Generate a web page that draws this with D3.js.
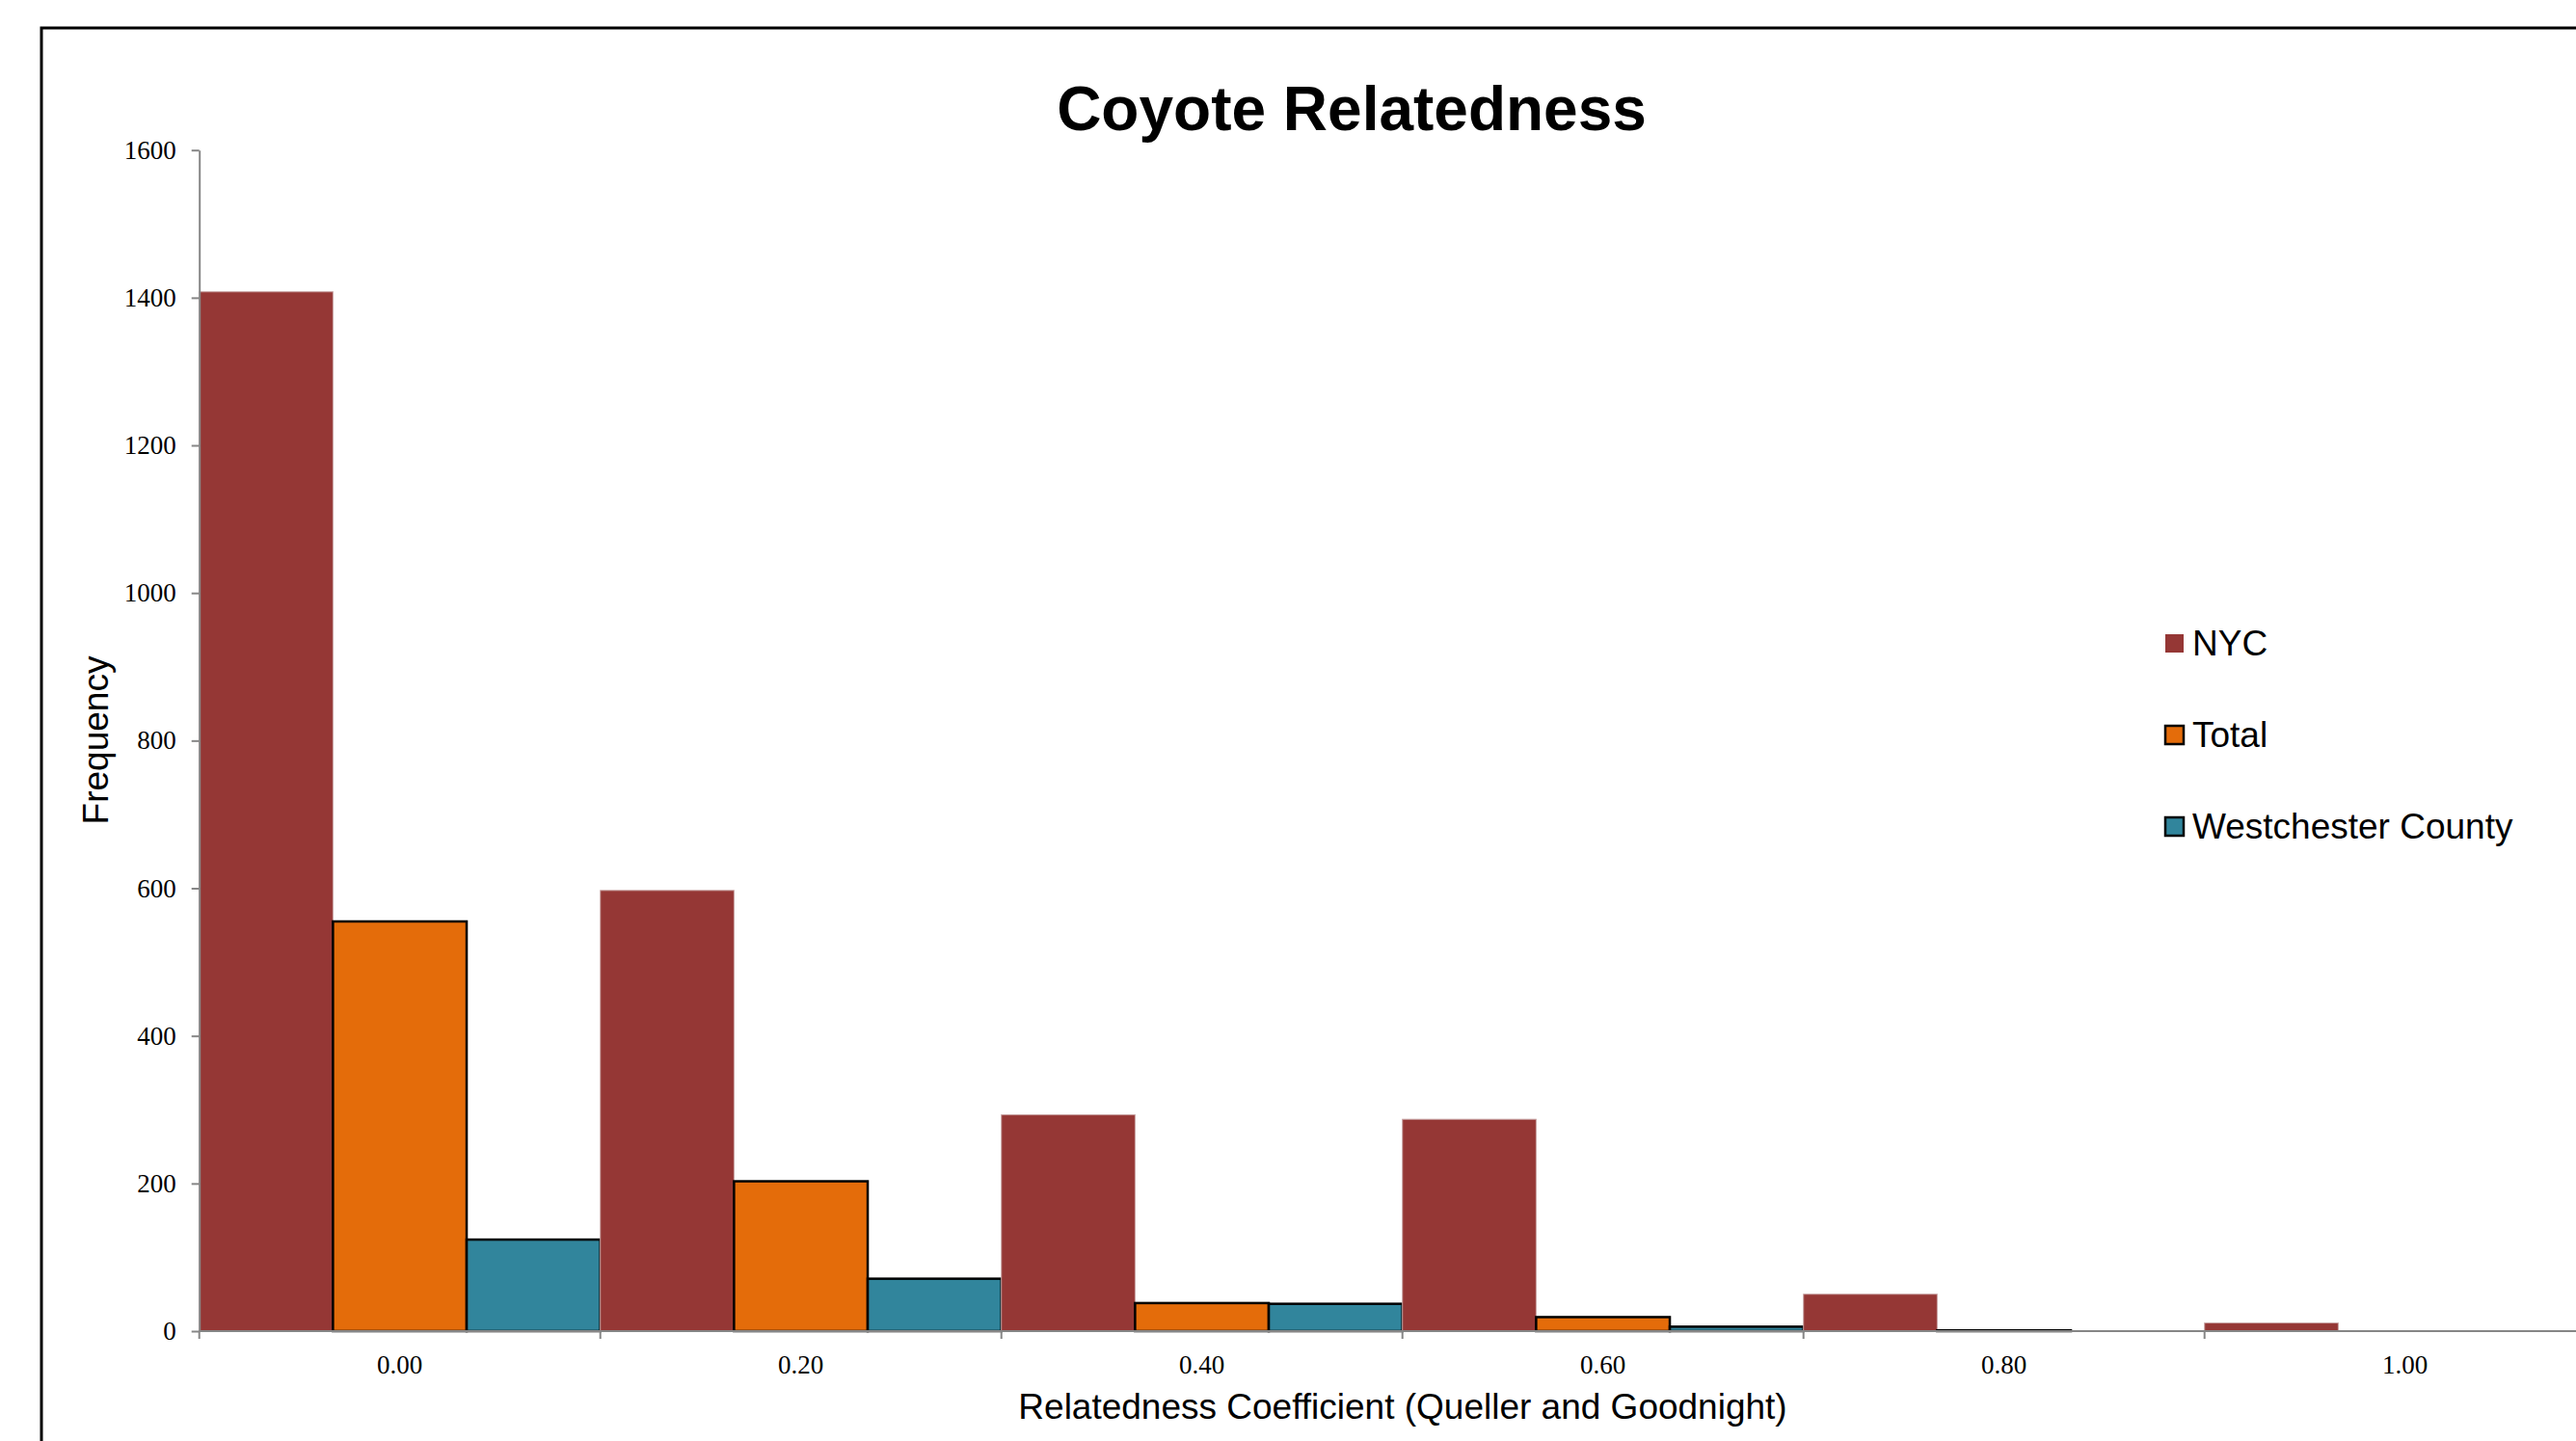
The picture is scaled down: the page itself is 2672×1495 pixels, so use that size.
<!DOCTYPE html>
<html>
<head>
<meta charset="utf-8">
<script src="https://cdn.jsdelivr.net/npm/d3@7"></script>
<style>
  body { margin: 0; background: #fff; }
  svg { display: block; }
</style>
</head>
<body>
<div id="chart"></div>
<script>
// Chart data
const categories = ["0.00", "0.20", "0.40", "0.60", "0.80", "1.00"];
const seriesNames = ["NYC", "Total", "Westchester County"];
const nycValues = [1408, 597, 293, 287, 50, 11];
const totalValues = [555, 203, 38, 19, 1, 0];
const westValues = [124, 71, 37, 6, 0, 0];
const yTicks = [0, 200, 400, 600, 800, 1000, 1200, 1400, 1600];

const colors = { "NYC": "#953735", "Total": "#E46C0A", "Westchester County": "#31859C" };
const strokes = { "NYC": "#c9a5a5", "Total": "#000", "Westchester County": "#000" };

const data = categories.map((c, i) => ({
  cat: c,
  values: [
    { key: "NYC", value: nycValues[i] },
    { key: "Total", value: totalValues[i] },
    { key: "Westchester County", value: westValues[i] }
  ]
}));

const W = 2672, H = 1495;
const svg = d3.select("#chart").append("svg").attr("width", W).attr("height", H);

// Outer frame (runs past the right and bottom edges)
svg.append("rect")
  .attr("x", 43).attr("y", 29)
  .attr("width", 2700).attr("height", 1500)
  .attr("fill", "none").attr("stroke", "#000").attr("stroke-width", 3);

// Plot area: the last category runs off the right edge
const plotLeft = 206.7, bandW = 416;
const plotTop = 155.7, plotBottom = 1381;

const x = d3.scaleBand()
  .domain(categories)
  .range([plotLeft, plotLeft + bandW * categories.length])
  .paddingInner(0).paddingOuter(0);

const xSub = d3.scaleBand()
  .domain(seriesNames)
  .range([0, x.bandwidth()])
  .padding(0);

const y = d3.scaleLinear().domain([0, 1600]).range([plotBottom, plotTop]);

// Bars
const groups = svg.append("g").selectAll("g")
  .data(data)
  .enter().append("g")
  .attr("transform", d => `translate(${x(d.cat)},0)`);

groups.selectAll("rect")
  .data(d => d.values)
  .enter().append("rect")
  .attr("x", d => xSub(d.key))
  .attr("y", d => y(d.value))
  .attr("width", xSub.bandwidth())
  .attr("height", d => y(0) - y(d.value))
  .attr("fill", d => colors[d.key])
  .attr("stroke", d => strokes[d.key])
  .attr("stroke-width", d => d.key === "NYC" ? 1 : 2.5);

// Y axis
const yAxis = svg.append("g")
  .attr("transform", `translate(${plotLeft},0)`)
  .call(d3.axisLeft(y).tickValues(yTicks).tickFormat(d3.format("d"))
    .tickSizeInner(8).tickSizeOuter(0).tickPadding(16));
yAxis.select(".domain").attr("stroke", "#868686").attr("stroke-width", 2);
yAxis.selectAll(".tick line").attr("stroke", "#868686").attr("stroke-width", 2);
yAxis.selectAll(".tick text")
  .style("font-family", "'Liberation Serif', 'Times New Roman', serif")
  .style("font-size", "27px")
  .attr("fill", "#000");

// X axis (labels at band centres, ticks between bands)
const xAxis = svg.append("g")
  .attr("transform", `translate(0,${plotBottom})`)
  .call(d3.axisBottom(x).tickSizeInner(0).tickSizeOuter(0).tickPadding(25));
xAxis.select(".domain").remove();
xAxis.selectAll(".tick line").remove();
xAxis.selectAll(".tick text")
  .style("font-family", "'Liberation Serif', 'Times New Roman', serif")
  .style("font-size", "27px")
  .attr("fill", "#000");

svg.append("line")
  .attr("x1", plotLeft).attr("x2", W)
  .attr("y1", plotBottom).attr("y2", plotBottom)
  .attr("stroke", "#868686").attr("stroke-width", 2);

svg.append("g").selectAll("line")
  .data(categories)
  .enter().append("line")
  .attr("x1", d => x(d)).attr("x2", d => x(d))
  .attr("y1", plotBottom).attr("y2", plotBottom + 8)
  .attr("stroke", "#868686").attr("stroke-width", 2);

// Titles
const sans = "'Liberation Sans', Arial, sans-serif";

svg.append("text")
  .attr("x", 1402).attr("y", 135)
  .attr("text-anchor", "middle")
  .style("font-family", sans).style("font-size", "64px").style("font-weight", "bold")
  .text("Coyote Relatedness");

svg.append("text")
  .attr("x", 1455).attr("y", 1472)
  .attr("text-anchor", "middle")
  .style("font-family", sans).style("font-size", "37px")
  .text("Relatedness Coefficient (Queller and Goodnight)");

svg.append("text")
  .attr("transform", "translate(111.7,768) rotate(-90)")
  .attr("text-anchor", "middle")
  .style("font-family", sans).style("font-size", "37px")
  .text("Frequency");

// Legend
const legend = svg.append("g").attr("transform", "translate(2246,658)");
const item = legend.selectAll("g")
  .data(seriesNames)
  .enter().append("g")
  .attr("transform", (d, i) => `translate(0,${i * 95})`);

item.append("rect")
  .attr("width", 19).attr("height", 19)
  .attr("fill", d => colors[d])
  .attr("stroke", d => d === "NYC" ? "none" : "#000")
  .attr("stroke-width", 2.5);

item.append("text")
  .attr("x", 28).attr("y", 22)
  .style("font-family", sans).style("font-size", "37px")
  .text(d => d);
</script>
</body>
</html>
